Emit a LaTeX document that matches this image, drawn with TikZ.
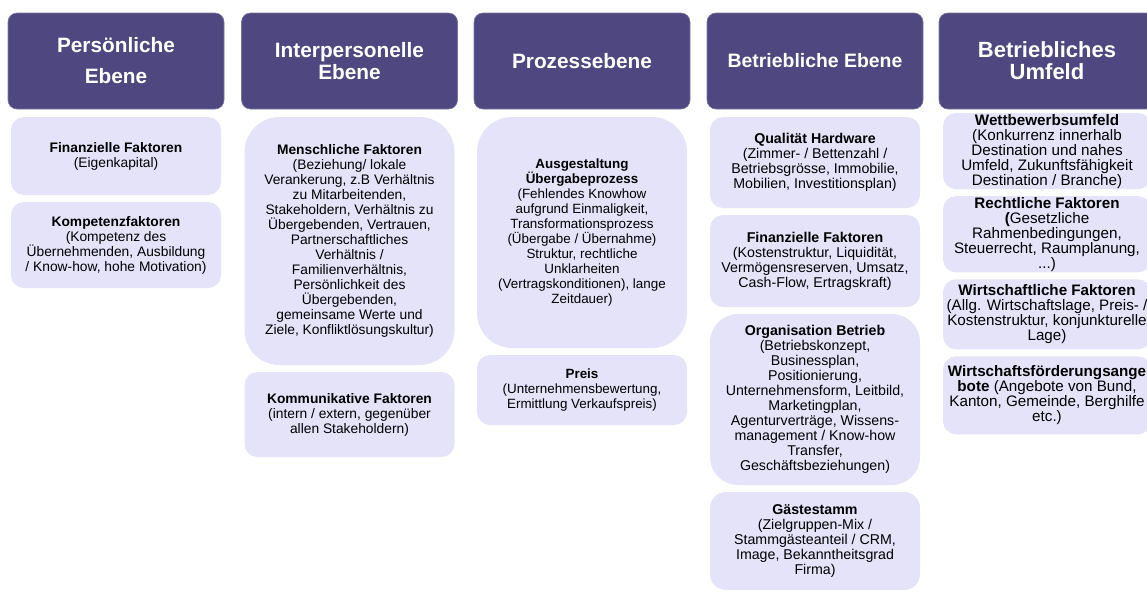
\documentclass[tikz,border=0pt]{standalone}
\usepackage{fontspec}
\setmainfont{Liberation Sans}
\usetikzlibrary{positioning}

\definecolor{levelpurple}{HTML}{4E4780}
\definecolor{factorlilac}{HTML}{E5E3FA}

\begin{document}
\begin{tikzpicture}[
    x = 1pt, y = -1pt, % pixel units, y downwards
    node distance = 7pt, % gap between the boxes
    level/.style = {draw = levelpurple!75!white, line width = 0.6pt, fill = levelpurple,
        text = white, rounded corners = 9pt, minimum width = 216pt, minimum height = 96pt,
        align = center, inner sep = 0pt, outer sep = 0pt,
        font = \fontsize{20.8}{22}\selectfont\bfseries}
    ]

    \tikzset{factor/.style = {
    fill = factorlilac,
    rounded corners = 13pt,
    minimum width = 210pt,
    align = center,
    inner sep = 2pt,
    outer sep = 0pt,
    font = \fontsize{13.8}{15}\selectfont
    }}

    \useasboundingbox (0,0) rectangle (1147,592);

    % headers
    \node[level] (persoenlich) at (116,61) {Persönliche\\[9pt]Ebene};
    \node[level] (interpers) at (349.5,61) {Interpersonelle\\Ebene};
    \node[level] (prozess) at (582,61) {Prozessebene};
    \node[level, font = \fontsize{19.4}{22}\selectfont\bfseries] (betrieb) at (815,61) {Betriebliche Ebene};
    \node[level, font = \fontsize{22}{22}\selectfont\bfseries] (umfeld) at (1047,61) {Betriebliches\\Umfeld};

    % persoenliche Ebene
    \node[factor, minimum height = 78pt] (finanz) [below = 8pt of persoenlich]
        {\textbf{Finanzielle Faktoren}\\(Eigenkapital)};
    \node[factor, minimum height = 86pt] (kompetenz) [below = of finanz]
        {\textbf{Kompetenzfaktoren}\\(Kompetenz des\\Übernehmenden, Ausbildung\\/ Know-how, hohe Motivation)};

    % interpersonelle Ebene
    \node[factor, minimum height = 248pt, rounded corners = 35pt] (mensch) [below = 8pt of interpers]
        {\textbf{Menschliche Faktoren}\\(Beziehung/ lokale\\Verankerung, z.B Verhältnis\\zu Mitarbeitenden,\\Stakeholdern, Verhältnis zu\\Übergebenden, Vertrauen,\\Partnerschaftliches\\Verhältnis /\\Familienverhältnis,\\Persönlichkeit des\\Übergebenden,\\gemeinsame Werte und\\Ziele, Konfliktlösungskultur)};
    \node[factor, minimum height = 85pt] (kommunikativ) [below = of mensch]
        {\textbf{Kommunikative Faktoren}\\(intern / extern, gegenüber\\allen Stakeholdern)};

    % Prozessebene
    \node[factor, minimum height = 231pt, rounded corners = 35pt, font = \fontsize{13.4}{15}\selectfont] (ausgestaltung) [below = 8pt of prozess]
        {\textbf{Ausgestaltung}\\\textbf{Übergabeprozess}\\(Fehlendes Knowhow\\aufgrund Einmaligkeit,\\Transformationsprozess\\(Übergabe / Übernahme)\\Struktur, rechtliche\\Unklarheiten\\(Vertragskonditionen), lange\\Zeitdauer)};
    \node[factor, minimum height = 70pt, font = \fontsize{13.4}{15}\selectfont] (preis) [below = of ausgestaltung]
        {\textbf{Preis}\\(Unternehmensbewertung,\\Ermittlung Verkaufspreis)};

    % betriebliche Ebene
    \tikzset{factor/.append style = {font = \fontsize{14.2}{15}\selectfont}}
    \node[factor, minimum height = 91pt] (hardware) [below = 8pt of betrieb]
        {\textbf{Qualität Hardware}\\(Zimmer- / Bettenzahl /\\Betriebsgrösse, Immobilie,\\Mobilien, Investitionsplan)};
    \node[factor, minimum height = 92pt] (finanzbetrieb) [below = of hardware]
        {\textbf{Finanzielle Faktoren}\\(Kostenstruktur, Liquidität,\\Vermögensreserven, Umsatz,\\Cash-Flow, Ertragskraft)};
    \node[factor, minimum height = 171pt, rounded corners = 28pt] (organisation) [below = of finanzbetrieb]
        {\textbf{Organisation Betrieb}\\(Betriebskonzept,\\Businessplan,\\Positionierung,\\Unternehmensform, Leitbild,\\Marketingplan,\\Agenturverträge, Wissens-\\management / Know-how\\Transfer,\\Geschäftsbeziehungen)};
    \node[factor, minimum height = 98pt, rounded corners = 16pt] (gaeste) [below = of organisation]
        {\textbf{Gästestamm}\\(Zielgruppen-Mix /\\Stammgästeanteil / CRM,\\Image, Bekanntheitsgrad\\Firma)};

    % betriebliches Umfeld
    \tikzset{factor/.append style = {minimum width = 208pt, inner sep = 1pt, font = \fontsize{15.2}{15}\selectfont}}
    \node[factor, minimum height = 76pt] (wettbewerb) [below = 4pt of umfeld]
        {\textbf{Wettbewerbsumfeld}\\(Konkurrenz innerhalb\\Destination und nahes\\Umfeld, Zukunftsfähigkeit\\Destination / Branche)};
    \node[factor, minimum height = 72pt] (recht) [below = of wettbewerb]
        {\textbf{Rechtliche Faktoren}\\\textbf{(}Gesetzliche\\Rahmenbedingungen,\\Steuerrecht, Raumplanung,\\...)};
    \node[factor, minimum height = 70pt] (wirtschaft) [below = of recht]
        {\textbf{Wirtschaftliche Faktoren}\\(Allg. Wirtschaftslage, Preis- /\\Kostenstruktur, konjunkturelle\\Lage)};
    \node[factor, minimum height = 78pt] (foerderung) [below = of wirtschaft]
        {\textbf{Wirtschaftsförderungsange}\\\textbf{bote} (Angebote von Bund,\\Kanton, Gemeinde, Berghilfe\\etc.)};

\end{tikzpicture}
\end{document}
